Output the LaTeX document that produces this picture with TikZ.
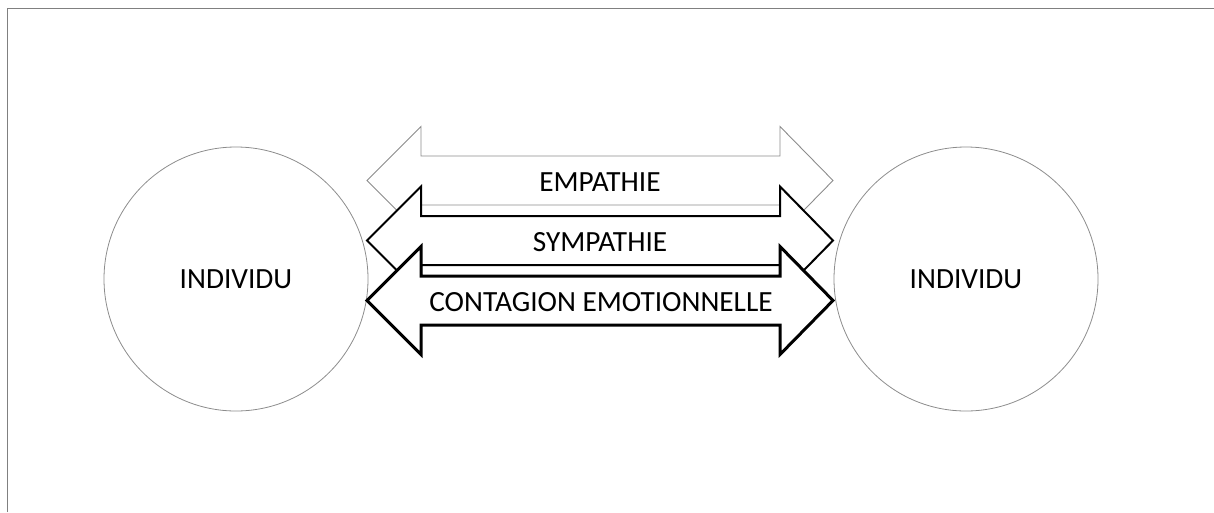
\documentclass[tikz,border=0pt]{standalone}
\usepackage{fontspec}
\setmainfont{Carlito}
\begin{document}
\begin{tikzpicture}[x=1pt,y=-1pt,
  frame/.style={draw=black!50,line width=1pt},
  person/.style={circle,draw=black!45,line width=0.8pt,minimum size=264pt,inner sep=0pt,font=\fontsize{29.3}{32}\selectfont},
  lbl/.style={font=\fontsize{29.3}{32}\selectfont,inner sep=0pt},
  arrowA/.style={draw=black!45,fill=white,line width=0.9pt,line join=miter},
  arrowB/.style={draw=black,fill=white,line width=2pt,line join=miter},
  arrowC/.style={draw=black,fill=white,line width=3pt,line join=miter}]
\useasboundingbox (0,0) rectangle (1214,512);
\draw[frame] (7,512) -- (7,8) -- (1214,8);
\node[person] (left) at (236,279) {INDIVIDU};
\node[person] (right) at (966,279) {INDIVIDU};
\def\darrow#1#2{%
  \draw[#1] (367,#2) -- (421,#2-54) -- (421,#2-24.5) -- (780,#2-24.5) -- (780,#2-54) -- (833,#2)
    -- (780,#2+54) -- (780,#2+24.5) -- (421,#2+24.5) -- (421,#2+54) -- cycle;}
\darrow{arrowA}{180.5}
\node[lbl] (emp) at (600,182) {EMPATHIE};
\darrow{arrowB}{240.5}
\node[lbl] (sym) at (600,242) {SYMPATHIE};
\darrow{arrowC}{300.5}
\node[lbl] (cont) at (601,302) {CONTAGION EMOTIONNELLE};
\end{tikzpicture}
\end{document}
